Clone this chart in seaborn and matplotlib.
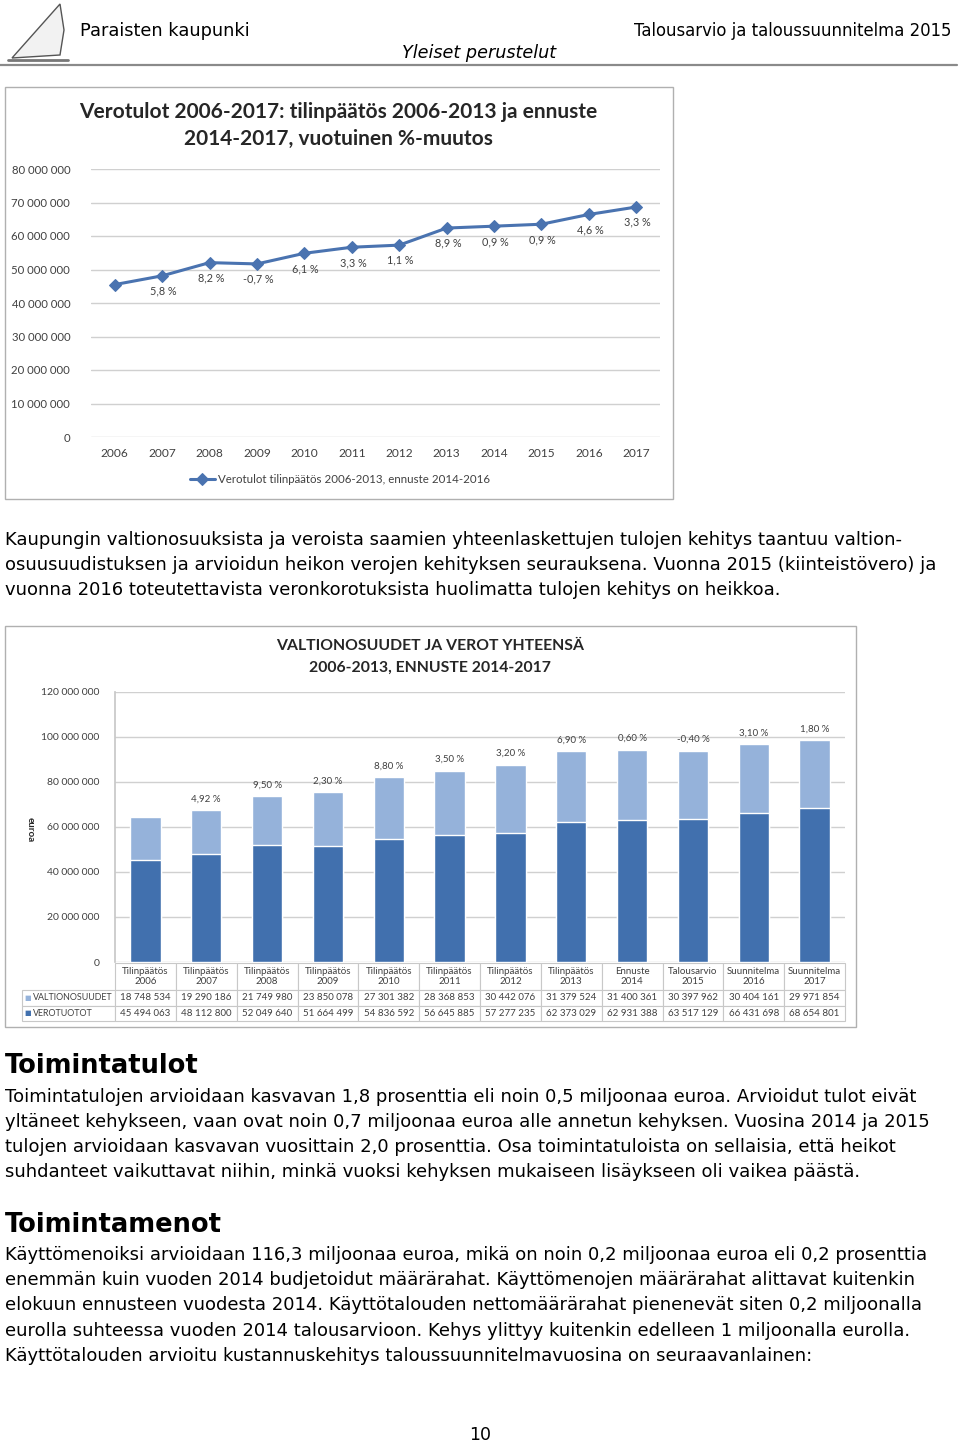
import numpy as np
import pandas as pd
import matplotlib
matplotlib.use("Agg")
import matplotlib.pyplot as plt
import seaborn as sns
from matplotlib.patches import Rectangle, Polygon
from matplotlib.lines import Line2D

# ----------------------------- data -----------------------------
years = ['2006', '2007', '2008', '2009', '2010', '2011', '2012', '2013', '2014', '2015', '2016', '2017']
verotuotot = [45494063, 48112800, 52049640, 51664499, 54836592, 56645885,
              57277235, 62373029, 62931388, 63517129, 66431698, 68654801]
valtionosuudet = [18748534, 19290186, 21749980, 23850078, 27301382, 28368853,
                  30442076, 31379524, 31400361, 30397962, 30404161, 29971854]
line_pct = ['', '5,8 %', '8,2 %', '-0,7 %', '6,1 %', '3,3 %', '1,1 %',
            '8,9 %', '0,9 %', '0,9 %', '4,6 %', '3,3 %']
bar_pct = ['', '4,92 %', '9,50 %', '2,30 %', '8,80 %', '3,50 %', '3,20 %',
           '6,90 %', '0,60 %', '-0,40 %', '3,10 %', '1,80 %']
bar_cols = ['Tilinpäätös\n2006', 'Tilinpäätös\n2007', 'Tilinpäätös\n2008', 'Tilinpäätös\n2009',
            'Tilinpäätös\n2010', 'Tilinpäätös\n2011', 'Tilinpäätös\n2012', 'Tilinpäätös\n2013',
            'Ennuste\n2014', 'Talousarvio\n2015', 'Suunnitelma\n2016', 'Suunnitelma\n2017']
line_ticks = np.arange(0, 80000001, 10000000)
bar_ticks = np.arange(0, 120000001, 20000000)

W, H = 960, 1443
DARK = '#4170AE'
LIGHT = '#95B2DA'
LINEC = '#4A73B0'
CHARTFONT = ['Lato', 'DejaVu Sans']
GREY = '#404040'

sns.set_theme(style='white')
plt.rcParams['font.family'] = ['DejaVu Sans']
plt.rcParams['text.color'] = 'black'

fig = plt.figure(figsize=(W / 100, H / 100), dpi=100)


def rect(x0, y0, x1, y1):
    return [x0 / W, 1 - y1 / H, (x1 - x0) / W, (y1 - y0) / H]


def ftext(x, y, s, **kw):
    fig.text(x / W, 1 - y / H, s, **kw)


def fmt(v):
    return f"{v:,.0f}".replace(",", " ")


# ----------------------------- header -----------------------------
fig.add_artist(Polygon([[12 / W, 1 - 58 / H], [60 / W, 1 - 4 / H], [64 / W, 1 - 30 / H],
                        [60 / W, 1 - 55 / H]], closed=True, transform=fig.transFigure,
                       facecolor='#f2f2f2', edgecolor='#555555', lw=1))
fig.add_artist(Line2D([8 / W, 68 / W], [1 - 60 / H, 1 - 60 / H], transform=fig.transFigure,
                      color='#777777', lw=2))
ftext(80, 31, 'Paraisten kaupunki', fontsize=12.8, va='center', ha='left')
ftext(952, 31, 'Talousarvio ja taloussuunnitelma 2015', fontsize=11.9, va='center', ha='right')
ftext(479, 53, 'Yleiset perustelut', fontsize=12.7, va='center', ha='center', style='italic')
fig.add_artist(Line2D([0, 957 / W], [1 - 65 / H, 1 - 65 / H], transform=fig.transFigure,
                      color='#8a8a8a', lw=1.6))

# ----------------------------- chart 1: line -----------------------------
fig.add_artist(Rectangle((5 / W, 1 - 499 / H), 668 / W, 412 / H, transform=fig.transFigure,
                         fill=False, edgecolor='#b0b0b0', lw=1))
ftext(338, 112, 'Verotulot 2006-2017: tilinpäätös 2006-2013 ja ennuste', fontsize=15,
      fontweight='bold', ha='center', va='center', family=CHARTFONT, color='#262626')
ftext(338, 139, '2014-2017, vuotuinen %-muutos', fontsize=15,
      fontweight='bold', ha='center', va='center', family=CHARTFONT, color='#262626')

ax1 = fig.add_axes(rect(91, 169, 660, 437))
df1 = pd.DataFrame({'vuosi': years, 'verotulot': verotuotot})
sns.lineplot(data=df1, x='vuosi', y='verotulot', ax=ax1, color=LINEC, lw=2.2, marker='D',
             markersize=6, markeredgecolor=LINEC, sort=False,
             label='Verotulot tilinpäätös 2006-2013, ennuste 2014-2016')
ax1.set_xlim(-0.5, 11.5)
ax1.set_ylim(0, 80000000)
ax1.set_yticks(line_ticks)
ax1.set_yticklabels([fmt(v) for v in line_ticks], family=CHARTFONT, fontsize=8.2, color=GREY)
for lab in ax1.get_xticklabels():
    lab.set_family(CHARTFONT)
    lab.set_fontsize(8.6)
    lab.set_color(GREY)
ax1.tick_params(axis='y', pad=15, length=0)
ax1.tick_params(axis='x', pad=8, length=0)
ax1.grid(axis='y', color='#d0d0d0', lw=1)
for s in ax1.spines.values():
    s.set_visible(False)
ax1.set_xlabel('')
ax1.set_ylabel('')
for i, (v, t) in enumerate(zip(verotuotot, line_pct)):
    if t:
        ax1.annotate(t, (i, v), xytext=(1, -11), textcoords='offset points', ha='center',
                     va='center', fontsize=7.8, family=CHARTFONT, color=GREY)
ax1.legend(loc='center', bbox_to_anchor=(0.4376, -0.16), frameon=False, handlelength=2.2,
           handletextpad=0.3, prop={'family': CHARTFONT, 'size': 8.3})
for t in ax1.get_legend().get_texts():
    t.set_color(GREY)

# ----------------------------- paragraph 1 -----------------------------
BODY = 13.0
p1 = ['Kaupungin valtionosuuksista ja veroista saamien yhteenlaskettujen tulojen kehitys taantuu valtion-',
      'osuusuudistuksen ja arvioidun heikon verojen kehityksen seurauksena. Vuonna 2015 (kiinteistövero) ja',
      'vuonna 2016 toteutettavista veronkorotuksista huolimatta tulojen kehitys on heikkoa.']
for k, line in enumerate(p1):
    ftext(5, 540 + 25 * k, line, fontsize=BODY, va='center', ha='left')

# ----------------------------- chart 2: stacked bars -----------------------------
fig.add_artist(Rectangle((5 / W, 1 - 1027 / H), 851 / W, 401 / H, transform=fig.transFigure,
                         fill=False, edgecolor='#b0b0b0', lw=1))
ftext(430, 646, 'VALTIONOSUUDET JA VEROT YHTEENSÄ', fontsize=11.3, fontweight='bold',
      ha='center', va='center', family=CHARTFONT, color='#262626')
ftext(430, 668, '2006-2013, ENNUSTE 2014-2017', fontsize=11.3, fontweight='bold',
      ha='center', va='center', family=CHARTFONT, color='#262626')

ax2 = fig.add_axes(rect(115, 692, 845, 962))
totals = [a + b for a, b in zip(verotuotot, valtionosuudet)]
sns.barplot(x=years, y=totals, color=LIGHT, width=0.5, ax=ax2, saturation=1)
sns.barplot(x=years, y=verotuotot, color=DARK, width=0.5, ax=ax2, saturation=1)
ax2.set_xlim(-0.5, 11.5)
ax2.set_ylim(0, 120000000)
ax2.set_yticks(bar_ticks)
ax2.set_yticklabels([fmt(v) for v in bar_ticks], family=CHARTFONT, fontsize=7.5, color=GREY)
ax2.set_xticks([])
ax2.tick_params(axis='y', pad=11, length=0)
ax2.grid(axis='y', color='#d0d0d0', lw=1)
ax2.set_axisbelow(True)
for s in ax2.spines.values():
    s.set_visible(False)
ax2.spines['left'].set_visible(True)
ax2.spines['left'].set_color('#c8c8c8')
ax2.set_ylabel('euroa', family=CHARTFONT, fontsize=7, fontweight='bold', rotation=270,
               labelpad=0, color='#262626')
ax2.yaxis.set_label_coords(-0.123, 0.49)
for i, (v, t) in enumerate(zip(totals, bar_pct)):
    if t:
        ax2.annotate(t, (i, v), xytext=(0, 8), textcoords='offset points', ha='center',
                     va='center', fontsize=7, family=CHARTFONT, color=GREY)

# data table under the bars
cell_text = [['VALTIONOSUUDET'] + [fmt(v) for v in valtionosuudet],
             ['VEROTUOTOT'] + [fmt(v) for v in verotuotot]]
col_labels = [''] + bar_cols
tab = ax2.table(cellText=cell_text, colLabels=col_labels, cellLoc='center',
                colWidths=[93] + [60.83] * 12,
                bbox=[(22 - 115) / 730, -59 / 270, 823 / 730, 58 / 270])
tab.auto_set_font_size(False)
for (r, c), cell in tab.get_celld().items():
    cell.set_edgecolor('#c8c8c8')
    cell.set_linewidth(0.8)
    cell.set_height(27 if r == 0 else 15.5)
    cell.get_text().set_fontfamily(CHARTFONT)
    cell.get_text().set_fontsize(7)
    cell.get_text().set_color(GREY)
    if c == 0 and r > 0:
        cell.get_text().set_ha('left')
        cell.get_text().set_fontsize(6.4)
        cell.PAD = 0.12
    if r == 0 and c == 0:
        cell.visible_edges = ''
ax2.text((24 - 115) / 730, -(998 - 962) / 270, '■', transform=ax2.transAxes, fontsize=5,
         color=LIGHT, va='center', ha='left', family=['DejaVu Sans'])
ax2.text((24 - 115) / 730, -(1013 - 962) / 270, '■', transform=ax2.transAxes, fontsize=5,
         color=DARK, va='center', ha='left', family=['DejaVu Sans'])

# ----------------------------- text below -----------------------------
ftext(5, 1066, 'Toimintatulot', fontsize=18.5, fontweight='bold', va='center', ha='left')
p2 = ['Toimintatulojen arvioidaan kasvavan 1,8 prosenttia eli noin 0,5 miljoonaa euroa. Arvioidut tulot eivät',
      'yltäneet kehykseen, vaan ovat noin 0,7 miljoonaa euroa alle annetun kehyksen. Vuosina 2014 ja 2015',
      'tulojen arvioidaan kasvavan vuosittain 2,0 prosenttia. Osa toimintatuloista on sellaisia, että heikot',
      'suhdanteet vaikuttavat niihin, minkä vuoksi kehyksen mukaiseen lisäykseen oli vaikea päästä.']
for k, line in enumerate(p2):
    ftext(5, 1097 + 25 * k, line, fontsize=BODY, va='center', ha='left')

ftext(5, 1225, 'Toimintamenot', fontsize=18.5, fontweight='bold', va='center', ha='left')
p3 = ['Käyttömenoiksi arvioidaan 116,3 miljoonaa euroa, mikä on noin 0,2 miljoonaa euroa eli 0,2 prosenttia',
      'enemmän kuin vuoden 2014 budjetoidut määrärahat. Käyttömenojen määrärahat alittavat kuitenkin',
      'elokuun ennusteen vuodesta 2014. Käyttötalouden nettomäärärahat pienenevät siten 0,2 miljoonalla',
      'eurolla suhteessa vuoden 2014 talousarvioon. Kehys ylittyy kuitenkin edelleen 1 miljoonalla eurolla.',
      'Käyttötalouden arvioitu kustannuskehitys taloussuunnitelmavuosina on seuraavanlainen:']
for k, line in enumerate(p3):
    ftext(5, 1255 + 25.2 * k, line, fontsize=BODY, va='center', ha='left')

ftext(480, 1435, '10', fontsize=12.5, va='center', ha='center')

fig.savefig('out.png', dpi=100)
